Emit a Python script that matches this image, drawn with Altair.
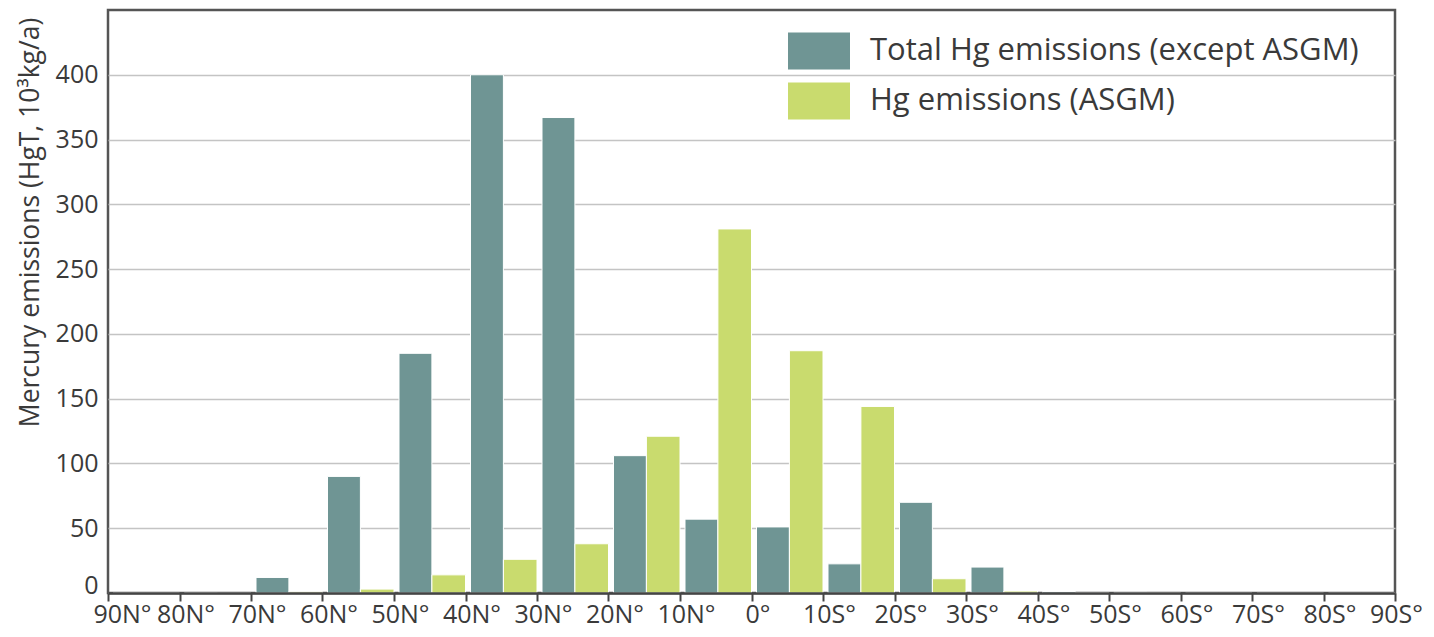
import altair as alt
import pandas as pd

# Latitude band starts (degrees; N positive, S negative); each band spans 10 degrees southward
band_start = [90, 80, 70, 60, 50, 40, 30, 20, 10, 0, -10, -20, -30, -40, -50, -60, -70, -80]
total_except_asgm = [0, 0.3, 12, 90, 185, 400, 367, 106, 57, 51, 22.5, 70, 20, 1.2, 0.5, 0, 0, 0]
asgm = [0, 0, 1, 3, 14, 26, 38, 121, 281, 187, 144, 11, 1.5, 0.3, 0.2, 0, 0, 0]
series_names = ["Total Hg emissions (except ASGM)", "Hg emissions (ASGM)"]
series_colors = ["#6f9594", "#c9db6e"]
x_tick_values = list(range(90, -91, -10))
y_tick_values = [0, 50, 100, 150, 200, 250, 300, 350, 400]

rows = []
for i, s in enumerate(band_start):
    rows.append({"lat": s, "series": series_names[0], "order": 0, "value": total_except_asgm[i]})
    rows.append({"lat": s, "series": series_names[1], "order": 1, "value": asgm[i]})
df = pd.DataFrame(rows)

FONT = "Open Sans"
TXT = "#3a3a3a"

bars = alt.Chart(df).transform_calculate(
    x0="datum.order == 0 ? datum.lat - 0.7 : datum.lat - 5.3",
    x1="datum.order == 0 ? datum.lat - 5.3 : datum.lat - 10",
).mark_bar(stroke="white", strokeWidth=1).encode(
    x=alt.X(
        "x0:Q",
        scale=alt.Scale(domain=[-90, 90], reverse=True, nice=False, zero=False),
        axis=alt.Axis(
            values=x_tick_values,
            labelExpr="datum.value == 0 ? '0°' : (datum.value > 0 ? datum.value + 'N°' : (-datum.value) + 'S°')",
            title=None,
            grid=False,
            domain=True,
            domainColor="#444444",
            domainWidth=2.5,
            ticks=True,
            tickColor="#444444",
            tickWidth=2,
            tickSize=8,
            labelFont=FONT,
            labelFontSize=25,
            labelColor=TXT,
            labelPadding=1,
            labelOverlap=False,
            labelFlush=False,
            labelBound=False,
            labelOffset=alt.expr("datum.value == 90 ? 14 : (datum.value == -90 ? 1 : 6)"),
            zindex=1,
        ),
    ),
    x2="x1:Q",
    y=alt.Y(
        "value:Q",
        scale=alt.Scale(domain=[0, 450], nice=False),
        axis=alt.Axis(
            values=y_tick_values,
            title="Mercury emissions (HgT, 10³kg/a)",
            titleFont=FONT,
            titleFontSize=26.5,
            titleFontWeight="normal",
            titleColor=TXT,
            titleAngle=-90,
            titleAlign="center",
            titleBaseline="middle",
            titleX=-78,
            titleY=212,
            grid=True,
            gridColor="#c4c4c4",
            gridWidth=1.6,
            domain=False,
            ticks=False,
            labelFont=FONT,
            labelFontSize=25,
            labelColor=TXT,
            labelPadding=10,
            labelOffset=alt.expr("datum.value == 0 ? -8 : 0"),
            zindex=0,
        ),
    ),
    y2=alt.datum(0),
    color=alt.Color(
        "series:N",
        scale=alt.Scale(domain=series_names, range=series_colors),
        legend=alt.Legend(
            title=None,
            orient="none",
            legendX=680,
            legendY=10,
            symbolType="M-1,-0.6H1V0.6H-1Z",
            symbolSize=3844,
            symbolStrokeWidth=0,
            symbolOpacity=1,
            labelFont=FONT,
            labelFontSize=31,
            labelColor=TXT,
            labelOffset=20,
            labelLimit=0,
            rowPadding=0,
            padding=0,
        ),
    ),
    order=alt.Order("order:Q"),
)

chart = bars.properties(
    width=1287,
    height=583,
    autosize=alt.AutoSizeParams(type="none"),
    padding={"left": 100, "top": 2, "right": 31, "bottom": 36},
    background="white",
).configure_view(
    stroke="#555555",
    strokeWidth=2.5,
)

chart.save("out.html", embed_options={"renderer": "svg", "actions": False})
